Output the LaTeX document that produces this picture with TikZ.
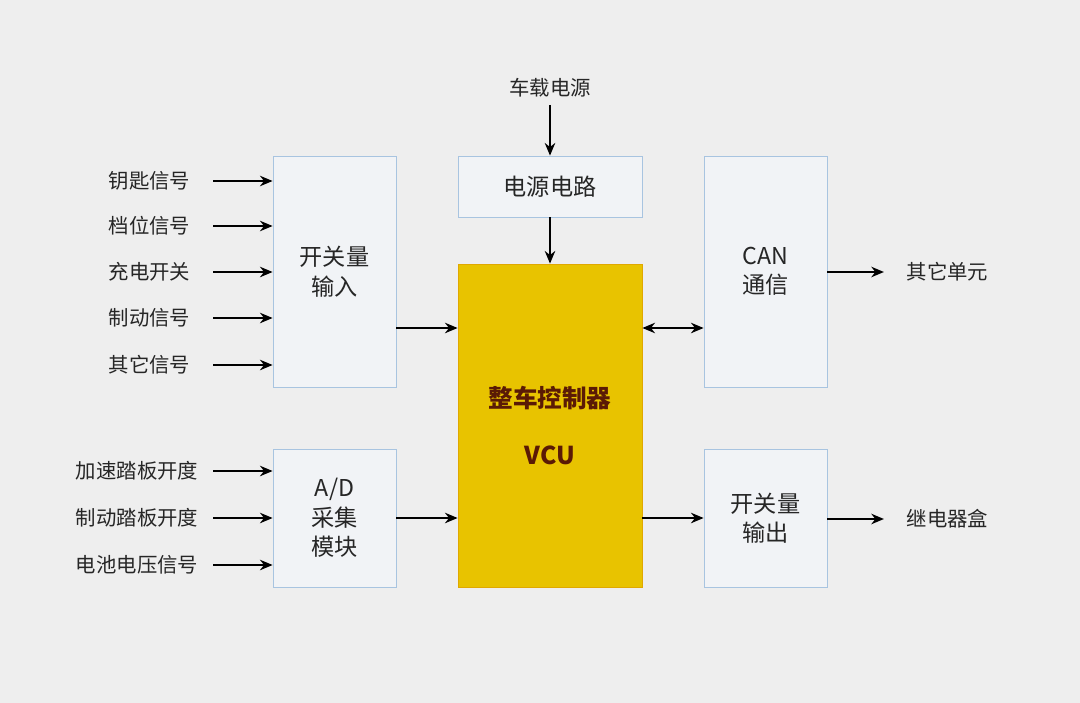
\documentclass[tikz,border=0pt]{standalone}
\usepackage{fontspec}
\setmainfont{Noto Sans CJK SC}
\usetikzlibrary{arrows.meta}
\definecolor{bg}{HTML}{EEEEEE}
\definecolor{boxf}{HTML}{F1F3F6}
\definecolor{boxd}{HTML}{A8C4E0}
\definecolor{vcuf}{HTML}{E8C300}
\definecolor{vcud}{HTML}{E0A800}
\definecolor{vcut}{HTML}{5A1A05}
\begin{document}
\begin{tikzpicture}[x=0.025cm,y=-0.025cm,
  blk/.style={draw=boxd,fill=boxf,line width=0.6pt,align=center,font=\fontsize{16.5}{21}\selectfont,text=black!85,inner sep=0},
  lab/.style={font=\fontsize{14.5}{18}\selectfont,text=black!85,inner sep=1pt},
  tip/.style={Stealth[length=9pt,width=7.5pt]},
  arr/.style={-{Stealth[length=9pt,width=7.5pt]},line width=1pt}]
\fill[bg] (0,0) rectangle (1080,703);
\useasboundingbox (0,0) rectangle (1080,703);
\node[blk,minimum width=123*0.025cm,minimum height=231*0.025cm] (sw) at (334.5,271.5) {开关量\\输入};
\node[blk,minimum width=123*0.025cm,minimum height=138*0.025cm] (ad) at (334.5,518) {A/D\\采集\\模块};
\node[blk,minimum width=184*0.025cm,minimum height=61*0.025cm] (pw) at (550,186.5) {电源电路};
\node[blk,draw=vcud,fill=vcuf,text=vcut,font=\fontsize{17.5}{22}\selectfont\bfseries,minimum width=184*0.025cm,minimum height=323*0.025cm] (vcu) at (550,425.5) {整车控制器\\[18pt]VCU};
\node[blk,minimum width=123*0.025cm,minimum height=231*0.025cm] (can) at (765.5,271.5) {CAN\\通信};
\node[blk,minimum width=123*0.025cm,minimum height=138*0.025cm] (out) at (765.5,518) {开关量\\输出};
\node[lab] (src) at (550,88) {车载电源};
\coordinate (st) at (550,105);
\draw[arr] (st) -- (pw.north);
\draw[arr] (pw.south) -- (vcu.north);
\foreach \t/\y/\n in {钥匙信号/181/a,档位信号/226/b,充电开关/272/c,制动信号/318/d,其它信号/365/e}{
  \node[lab,anchor=east] (l\n) at (192,\y) {\t};
  \coordinate (s\n) at (213,\y);
  \draw[arr] (s\n) -- (sw.west |- s\n);}
\foreach \t/\y/\n in {加速踏板开度/471/f,制动踏板开度/518/g,电池电压信号/565/h}{
  \node[lab,anchor=east] (l\n) at (200,\y) {\t};
  \coordinate (s\n) at (213,\y);
  \draw[arr] (s\n) -- (ad.west |- s\n);}
\coordinate (y1) at (0,328);
\draw[arr] (sw.east |- y1) -- (vcu.west |- y1);
\draw[arr] (ad.east) -- (vcu.west |- ad.east);
\draw[{Stealth[length=9pt,width=7.5pt]}-{Stealth[length=9pt,width=7.5pt]},line width=1pt] (vcu.east |- y1) -- (can.west |- y1);
\draw[arr] (vcu.east |- out.west) -- (out.west);
\node[lab,anchor=west] (o1) at (905,272) {其它单元};
\node[lab,anchor=west] (o2) at (905,519) {继电器盒};
\draw[arr] (can.east |- o1) -- ([xshift=-15pt]o1.west);
\draw[arr] (out.east |- o2) -- ([xshift=-15pt]o2.west);
\end{tikzpicture}
\end{document}
